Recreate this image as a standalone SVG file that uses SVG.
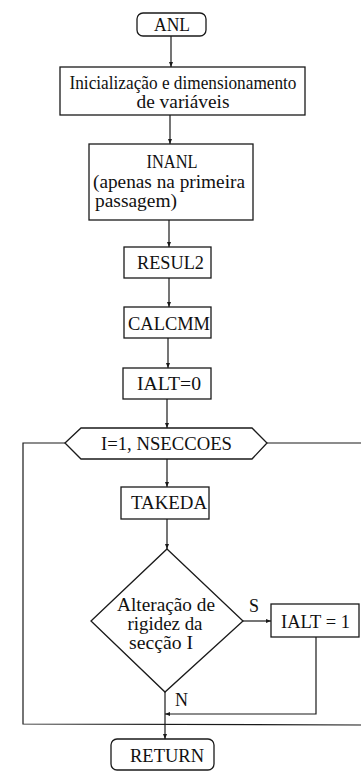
<svg xmlns="http://www.w3.org/2000/svg" width="361" height="771" viewBox="0 0 361 771">
<defs>
<style>
.box{fill:#fff;stroke:#1a1a1a;stroke-width:1.3}
.ln{fill:none;stroke:#1a1a1a;stroke-width:1.2}
text{font-family:"Liberation Serif","Times New Roman",serif;font-size:18px;fill:#111}
.c{text-anchor:middle}
</style>
<marker id="ah" viewBox="0 0 10 10" refX="10" refY="5" markerWidth="5" markerHeight="5" orient="auto" markerUnits="userSpaceOnUse">
<path d="M0,1 L10,5 L0,9 z" fill="#1a1a1a"/>
</marker>
</defs>
<rect width="361" height="771" fill="#fff"/>
<g id="connectors">
<line class="ln" x1="171" y1="36" x2="171" y2="67" marker-end="url(#ah)"/>
<line class="ln" x1="170" y1="115" x2="170" y2="144" marker-end="url(#ah)"/>
<line class="ln" x1="169" y1="220" x2="169" y2="247" marker-end="url(#ah)"/>
<line class="ln" x1="169" y1="278" x2="169" y2="307" marker-end="url(#ah)"/>
<line class="ln" x1="168" y1="338" x2="168" y2="368" marker-end="url(#ah)"/>
<line class="ln" x1="167" y1="399" x2="167" y2="428" marker-end="url(#ah)"/>
<line class="ln" x1="167" y1="459" x2="167" y2="487" marker-end="url(#ah)"/>
<line class="ln" x1="167" y1="519" x2="167" y2="549" marker-end="url(#ah)"/>
<line class="ln" x1="243" y1="621" x2="271" y2="621" marker-end="url(#ah)"/>
<polyline class="ln" points="316,637 316,714 165,714" marker-end="url(#ah)"/>
<line class="ln" x1="165" y1="692" x2="165" y2="739" marker-end="url(#ah)"/>
<polyline class="ln" points="65,443 23,443 23,724 361,725"/>
<line class="ln" x1="267" y1="443" x2="361" y2="443"/>
<text x="249" y="612">S</text>
<text x="175" y="706">N</text>
</g>
<g id="anl">
<rect class="box" x="137" y="13" width="69" height="23" rx="6"/>
<text class="c" x="172" y="31" textLength="36" lengthAdjust="spacingAndGlyphs">ANL</text>
</g>
<g id="init">
<rect class="box" x="60" y="67" width="245" height="48"/>
<text class="c" x="183" y="89" textLength="227" lengthAdjust="spacingAndGlyphs">Inicialização e dimensionamento</text>
<text class="c" x="183" y="108" textLength="93" lengthAdjust="spacingAndGlyphs">de variáveis</text>
</g>
<g id="inanl">
<rect class="box" x="89" y="144" width="164" height="76"/>
<text class="c" x="172" y="168" textLength="51" lengthAdjust="spacingAndGlyphs">INANL</text>
<text x="93" y="188" textLength="152" lengthAdjust="spacingAndGlyphs">(apenas na primeira</text>
<text x="95" y="207" textLength="82" lengthAdjust="spacingAndGlyphs">passagem)</text>
</g>
<g id="resul2">
<rect class="box" x="124" y="247" width="87" height="31"/>
<text x="137" y="269" textLength="67" lengthAdjust="spacingAndGlyphs">RESUL2</text>
</g>
<g id="calcmm">
<rect class="box" x="124" y="307" width="87" height="31"/>
<text x="128" y="330" textLength="82" lengthAdjust="spacingAndGlyphs">CALCMM</text>
</g>
<g id="ialt0">
<rect class="box" x="123" y="368" width="88" height="31"/>
<text x="137" y="390" textLength="64" lengthAdjust="spacingAndGlyphs">IALT=0</text>
</g>
<g id="loop">
<polygon class="box" points="65,443 81,428 252,428 267,443 252,459 81,459"/>
<text x="101" y="450" textLength="131" lengthAdjust="spacingAndGlyphs">I=1, NSECCOES</text>
</g>
<g id="takeda">
<rect class="box" x="121" y="487" width="88" height="32"/>
<text x="131" y="509" textLength="76" lengthAdjust="spacingAndGlyphs">TAKEDA</text>
</g>
<g id="decision">
<polygon class="box" points="167,549 243,621 165,692 91,621"/>
<text class="c" x="166" y="611" textLength="98" lengthAdjust="spacingAndGlyphs">Alteração de</text>
<text class="c" x="165" y="630" textLength="75" lengthAdjust="spacingAndGlyphs">rigidez da</text>
<text class="c" x="161" y="649" textLength="64" lengthAdjust="spacingAndGlyphs">secção I</text>
</g>
<g id="ialt1">
<rect class="box" x="271" y="604" width="88" height="33"/>
<text x="281" y="628" textLength="69" lengthAdjust="spacingAndGlyphs">IALT = 1</text>
</g>
<g id="return">
<rect class="box" x="111" y="739" width="103" height="31" rx="6"/>
<text x="130" y="762" textLength="74" lengthAdjust="spacingAndGlyphs">RETURN</text>
</g>
</svg>
